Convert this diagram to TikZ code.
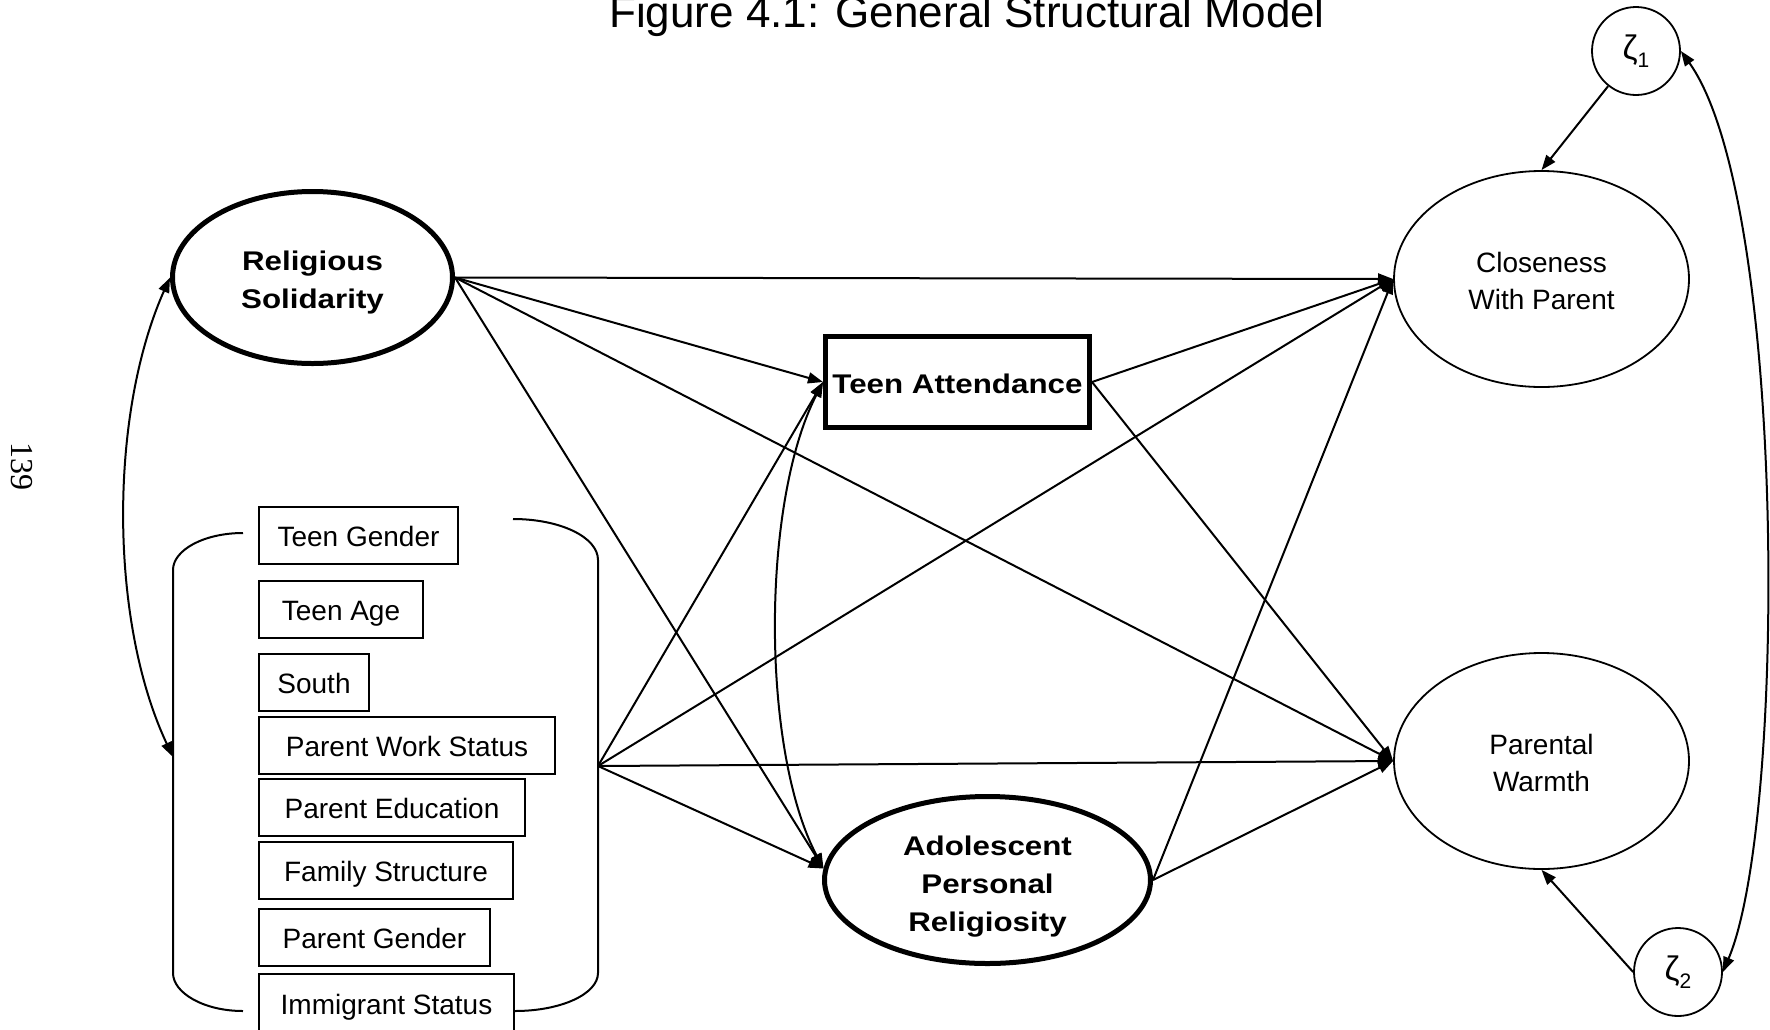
\documentclass[tikz,border=0pt]{standalone}
\usepackage{fontspec}
\setmainfont{Liberation Sans}
\newfontfamily\widebold{Liberation Sans}[FakeStretch=1.16]
\newfontfamily\pagefont{Liberation Serif}
\usetikzlibrary{arrows.meta,shapes.geometric}

\begin{document}
\begin{tikzpicture}[x=1pt,y=-1pt,
  >={Triangle[length=15pt,width=11pt]},
  conn/.style={line width=2pt,->},
  latent/.style={ellipse,draw,line width=1.8pt,inner sep=0pt,align=center,
    font=\fontsize{28}{37}\selectfont},
  keylatent/.style={ellipse,draw,line width=5pt,inner sep=0pt,align=center,
    font=\widebold\bfseries\fontsize{27}{38}\selectfont},
  covbox/.style={draw,line width=2pt,anchor=north west,minimum height=57pt,
    inner sep=0pt,text height=21pt,text depth=0pt,font=\fontsize{28}{34}\selectfont},
  errterm/.style={circle,draw,line width=1.8pt,minimum size=88pt,inner sep=0pt,
    font=\fontsize{34}{34}\selectfont}
]
\useasboundingbox (0,0) rectangle (1770,1029);

% title and page number
\node[font=\fontsize{44}{44}\selectfont,anchor=base] (title) at (967,27)
  {Figure 4.1: General Structural Model};
\node[font=\pagefont\fontsize{32}{32}\selectfont,rotate=-90] (pg) at (21.5,466) {139};

% latent constructs (the zero-width rules set the first baseline)
\node[keylatent,minimum width=280pt,minimum height=172pt] (rs) at (312.5,277.5)
  {\rule{0pt}{30pt}Religious\\Solidarity};
\node[keylatent,minimum width=326pt,minimum height=167pt] (apr) at (987.5,880)
  {\rule{0pt}{32pt}Adolescent\\Personal\\Religiosity};
\node[draw,line width=5pt,minimum width=264pt,minimum height=91pt,inner sep=0pt,
  text height=22pt,text depth=0pt,font=\widebold\bfseries\fontsize{27}{27}\selectfont]
  (ta) at (957.5,382) {Teen Attendance};
\node[latent,minimum width=295pt,minimum height=216pt] (close) at (1541.5,279)
  {\rule{0pt}{25pt}Closeness\\With Parent};
\node[latent,minimum width=295pt,minimum height=216pt] (warm) at (1541.5,761)
  {\rule{0pt}{25pt}Parental\\Warmth};

% disturbances
\node[errterm] (z1) at (1636,51)
  {ζ\raisebox{-8pt}{\fontsize{21}{21}\selectfont 1}};
\node[errterm] (z2) at (1678,972)
  {ζ\raisebox{-8pt}{\fontsize{21}{21}\selectfont 2}};

% control variables
\node[covbox,minimum width=199pt] (tg) at (258,506) {Teen Gender};
\node[covbox,minimum width=164pt] (tage) at (258,580) {Teen Age};
\node[covbox,minimum width=110pt] (south) at (258,653) {South};
\node[covbox,minimum width=296pt] (pws) at (258,716) {Parent Work Status};
\node[covbox,minimum width=266pt] (pe) at (258,778) {Parent Education};
\node[covbox,minimum width=254pt] (fs) at (258,841) {Family Structure};
\node[covbox,minimum width=231pt] (pg2) at (258,908) {Parent Gender};
\node[covbox,minimum width=255pt,minimum height=60pt] (imm) at (258,973) {Immigrant Status};

% bracket grouping the controls
\draw[line width=2pt] (243,533) .. controls (204,533) and (173,550) .. (173,570)
  -- (173,973) .. controls (173,993) and (204,1011) .. (243,1011);
\draw[line width=2pt] (513,519) .. controls (560,519) and (598,537) .. (598,560)
  -- (598,973) .. controls (598,994) and (561,1011) .. (515,1011);
\coordinate (grp) at (598,766);
\coordinate (grpW) at (173,757);

% covariances
\draw[conn,<->] (rs.west) .. controls (109,414) and (109,621) .. (grpW);
\draw[conn,<->] (ta.west) .. controls (761,503) and (761,750) .. (apr.176);
\draw[conn,<->] (z1.east) .. controls (1787,200) and (1787,820) .. (z2.east);

% structural paths
\draw[conn] (rs.east) -- (close.west);
\draw[conn] (rs.east) -- (ta.west);
\draw[conn] (rs.east) -- (warm.west);
\draw[conn] (rs.east) -- (apr.176);
\draw[conn] (grp) -- (ta.west);
\draw[conn] (grp) -- (close.west);
\draw[conn] (grp) -- (warm.west);
\draw[conn] (grp) -- (apr.176);
\draw[conn] (ta.east) -- (close.west);
\draw[conn] (ta.east) -- (warm.west);
\draw[conn] (apr.east) -- (close.west);
\draw[conn] (apr.east) -- (warm.west);

% disturbance paths
\draw[conn] (z1) -- (close.north);
\draw[conn] (z2.west) -- (warm.south);
\end{tikzpicture}
\end{document}
